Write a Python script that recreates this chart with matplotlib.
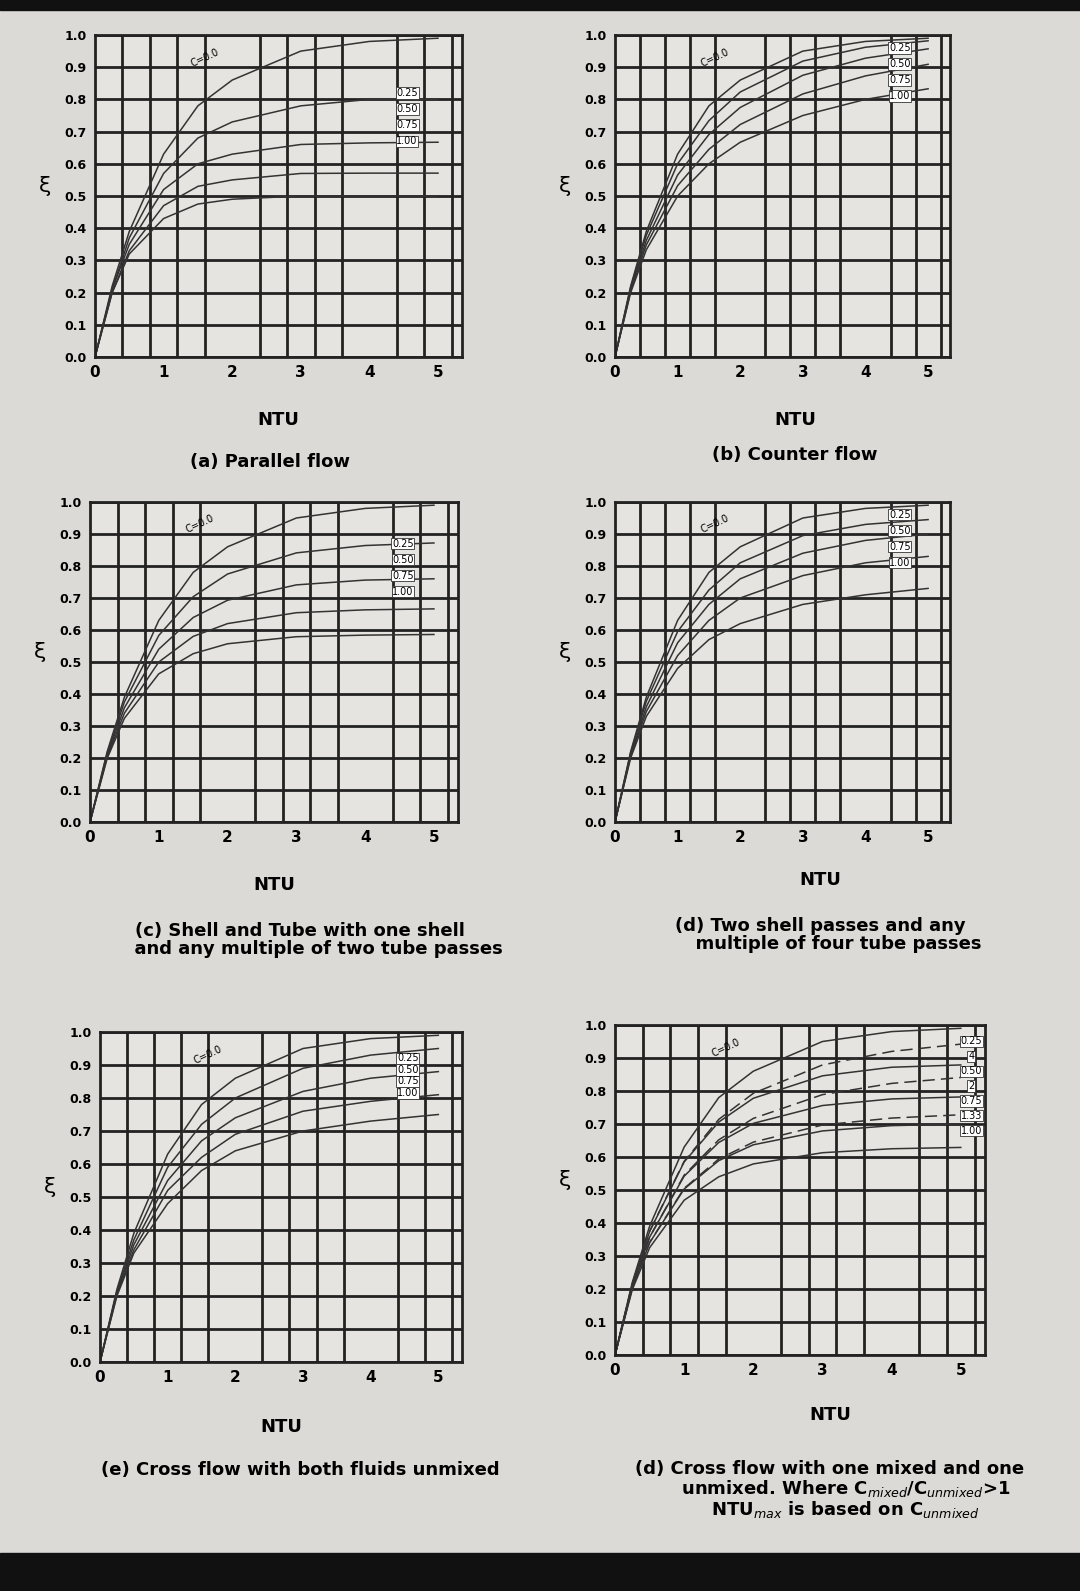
import matplotlib
matplotlib.use('Agg')
import matplotlib.pyplot as plt
from matplotlib.patches import Rectangle

W, H = 1080, 1591

ntu = [0, 0.25, 0.5, 1, 1.5, 2, 3, 4, 5]
c_labels = ['0.25', '0.50', '0.75', '1.00']

# effectiveness, one list per curve (C = 0, 0.25, 0.5, 0.75, 1.0)
parallel = [
    [0, .22, .39, .63, .78, .86, .95, .98, .99],
    [0, .21, .37, .57, .68, .73, .78, .80, .80],
    [0, .21, .35, .52, .60, .63, .66, .665, .667],
    [0, .20, .33, .47, .53, .55, .57, .571, .571],
    [0, .20, .32, .43, .475, .49, .50, .50, .50],
]
counter = [
    [0, .22, .39, .63, .78, .86, .95, .98, .99],
    [0, .216, .378, .60, .734, .823, .919, .962, .982],
    [0, .21, .362, .565, .691, .775, .875, .928, .957],
    [0, .205, .348, .532, .645, .722, .817, .873, .909],
    [0, .20, .333, .50, .60, .667, .75, .80, .833],
]
shell1 = [
    [0, .22, .39, .63, .78, .86, .95, .98, .99],
    [0, .215, .375, .583, .704, .775, .841, .864, .872],
    [0, .209, .357, .54, .639, .693, .741, .756, .76],
    [0, .204, .34, .50, .58, .62, .654, .663, .666],
    [0, .199, .324, .463, .526, .557, .579, .584, .586],
]
shell2 = [
    [0, .22, .39, .63, .78, .86, .95, .98, .99],
    [0, .216, .377, .595, .725, .81, .895, .93, .945],
    [0, .21, .36, .56, .68, .76, .84, .88, .90],
    [0, .205, .345, .52, .63, .70, .77, .81, .83],
    [0, .20, .33, .48, .57, .62, .68, .71, .73],
]
cross_unmixed = [
    [0, .22, .39, .63, .78, .86, .95, .98, .99],
    [0, .215, .37, .59, .72, .80, .89, .93, .95],
    [0, .21, .355, .55, .67, .74, .82, .86, .88],
    [0, .205, .34, .52, .62, .69, .76, .79, .81],
    [0, .20, .33, .48, .58, .64, .70, .73, .75],
]
cross_mixed = [
    [0, .22, .39, .63, .78, .86, .95, .98, .99],
    [0, .215, .374, .585, .706, .778, .846, .872, .879],
    [0, .209, .357, .542, .644, .702, .756, .776, .782],
    [0, .204, .34, .503, .589, .637, .679, .695, .70],
    [0, .198, .325, .469, .54, .579, .613, .625, .629],
]
# dashed curves, Cmixed/Cunmixed = 4, 2, 1.33
cross_mixed_dash = [
    [0, .215, .375, .587, .714, .793, .879, .920, .942],
    [0, .209, .357, .545, .652, .717, .789, .823, .841],
    [0, .204, .341, .505, .594, .645, .697, .718, .728],
]
f_labels = ['0.25', '4', '0.50', '2', '0.75', '1.33', '1.00']

panels = [
    # data, px box (left, top, right, bottom), caption, caption x, caption y
    (parallel, (95, 35, 462, 357), '(a) Parallel flow', 270, 462),
    (counter, (615, 35, 950, 357), '(b) Counter flow', 795, 455),
    (shell1, (90, 502, 458, 822), '(c) Shell and Tube with one shell\n      and any multiple of two tube passes', 300, 940),
    (shell2, (615, 502, 950, 822), '(d) Two shell passes and any\n      multiple of four tube passes', 820, 935),
    (cross_unmixed, (100, 1032, 462, 1362), '(e) Cross flow with both fluids unmixed', 300, 1470),
    (cross_mixed, (615, 1025, 985, 1355), '(d) Cross flow with one mixed and one\n     unmixed. Where C$_{mixed}$/C$_{unmixed}$>1\n     NTU$_{max}$ is based on C$_{unmixed}$', 830, 1490),
]
ntu_y = [425, 425, 890, 885, 1432, 1420]
label_top = [0.82, 0.96, 0.87, 0.96, 0.92, 0.95]
label_step = [0.05, 0.05, 0.05, 0.05, 0.035, 0.045]

fig = plt.figure(figsize=(W / 100, H / 100), dpi=100, facecolor='#dcdad6')
fig.patches.append(Rectangle((0, 1 - 10 / H), 1, 10 / H, transform=fig.transFigure, color='#111', zorder=-1))
fig.patches.append(Rectangle((0, 0), 1, 38 / H, transform=fig.transFigure, color='#111', zorder=-1))

for i, (data, (l, t, r, b), cap, cx, cy) in enumerate(panels):
    ax = fig.add_axes([l / W, 1 - b / H, (r - l) / W, (b - t) / H])
    ax.set_facecolor('#e6e4e0')
    ax.set_xlim(0, 5.35)
    ax.set_ylim(0, 1.0)
    ax.set_xticks(range(6))
    ax.set_yticks([k / 10 for k in range(11)])
    ax.set_yticklabels(['%.1f' % (k / 10) for k in range(11)], fontsize=9, fontweight='bold')
    ax.set_xticklabels([str(k) for k in range(6)], fontsize=11, fontweight='bold')
    ax.set_xticks([k * 0.4 for k in range(14)], minor=True)
    ax.grid(True, which='major', axis='y', color='#222', lw=2)
    ax.grid(True, which='minor', axis='x', color='#222', lw=2)
    ax.tick_params(length=0, which='both', pad=6)
    for s in ax.spines.values():
        s.set_linewidth(2)
        s.set_color('#222')
    for eps in data:
        ax.plot(ntu, eps, color='#333', lw=1.1)
    labels = c_labels
    xlab = 4.55
    if i == 5:
        for eps in cross_mixed_dash:
            ax.plot(ntu, eps, color='#333', lw=1.1, ls=(0, (8, 4)))
        labels = f_labels
        xlab = 5.15
    for j, lab in enumerate(labels):
        ax.text(xlab, label_top[i] - j * label_step[i], lab, fontsize=7, ha='center', va='center',
                bbox=dict(fc='white', ec='#333', pad=0.5, lw=0.6))
    ax.text(1.6, 0.93, 'C=0.0', fontsize=7, rotation=25, ha='center', va='center')
    ax.set_ylabel('ξ', rotation=0, fontsize=16, labelpad=14)
    fig.text(cx / W if i % 2 else (l + r) / 2 / W, 1 - ntu_y[i] / H, 'NTU', ha='center',
             fontsize=13, fontweight='bold')
    fig.text(cx / W, 1 - cy / H, cap, ha='center', va='center', fontsize=13, linespacing=1.0,
             fontweight='bold')

fig.savefig('out.png', dpi=100, facecolor=fig.get_facecolor())
